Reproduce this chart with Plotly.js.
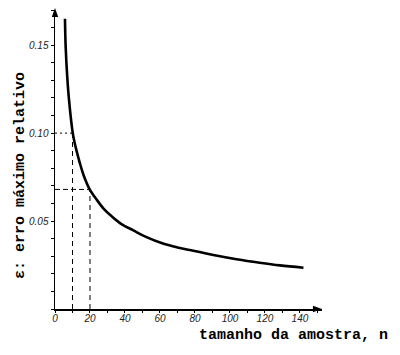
<!DOCTYPE html>
<html>
<head>
<meta charset="utf-8">
<script src="https://cdn.plot.ly/plotly-3.0.1.min.js"></script>
<style>html,body{margin:0;padding:0;background:#fff;}#chart{width:400px;height:355px;}</style>
</head>
<body>
<div id="chart"></div>
<script>
// Curve
const sampleSize = [5.7, 6.1, 7.0, 8.0, 10.0, 11.0, 12.4, 14.2, 16.2, 19.6, 23.8, 28, 32.4, 38, 44.8, 52, 61.7, 70, 77, 90.5, 103.8, 117, 128.6, 142];
const maxRelError = [0.165, 0.149, 0.132, 0.119, 0.101, 0.0955, 0.0896, 0.083, 0.0765, 0.0685, 0.0622, 0.0568, 0.0527, 0.0483, 0.0447, 0.041, 0.0372, 0.035, 0.0335, 0.0307, 0.0283, 0.0263, 0.0248, 0.0235];
// Reference guide points (n, epsilon)
const refN = [10, 20];
const refEps = [0.10, 0.068];
// Tick labels
const xTickVals = [0, 20, 40, 60, 80, 100, 120, 140];
const xTickText = ["0", "20", "40", "60", "80", "100", "120", "140"];
const yTickVals = [0.05, 0.10, 0.15];
const yTickText = ["0.05", "0.10", "0.15"];

const xTitle = "tamanho da amostra, n";
const yTitle = "ε: erro máximo relativo";

const traces = [];
traces.push({x: [refN[0], refN[0]], y: [0, refEps[0]], mode: 'lines', line: {color: '#000', width: 1, dash: '5px,4px'}, hoverinfo: 'skip'});
traces.push({x: [refN[1], refN[1]], y: [0, refEps[1]], mode: 'lines', line: {color: '#000', width: 1, dash: '5px,4px'}, hoverinfo: 'skip'});
traces.push({x: [0, refN[0]], y: [refEps[0], refEps[0]], mode: 'lines', line: {color: '#000', width: 1, dash: '2px,3px'}, hoverinfo: 'skip'});
traces.push({x: [0, refN[1]], y: [refEps[1], refEps[1]], mode: 'lines', line: {color: '#000', width: 1, dash: '5px,3px'}, hoverinfo: 'skip'});
traces.push({x: sampleSize, y: maxRelError, mode: 'lines', line: {color: '#000', width: 2.6, shape: 'spline', smoothing: 1.0}});

const tickFont = {family: 'Liberation Sans, Arial, sans-serif', size: 10, color: '#222', style: 'italic'};
const titleFont = {family: 'Courier New, Liberation Mono, monospace', size: 15, color: '#000', weight: 'bold'};

const layout = {
  width: 400, height: 355,
  margin: {l: 55, r: 78, t: 10, b: 46},
  paper_bgcolor: '#fff', plot_bgcolor: '#fff',
  showlegend: false,
  xaxis: {
    range: [0, 152.6], showgrid: false, zeroline: false,
    showline: true, linecolor: '#000', linewidth: 1.5,
    tickmode: 'array', tickvals: xTickVals, ticktext: xTickText,
    ticks: 'outside', ticklen: 2, tickcolor: '#000', tickwidth: 1,
    ticklabelstandoff: -3,
    minor: {tickmode: 'linear', dtick: 10, ticks: 'outside', ticklen: 2, tickcolor: '#000', tickwidth: 1},
    tickfont: tickFont, fixedrange: true
  },
  yaxis: {
    range: [0, 0.17], showgrid: false, zeroline: false,
    showline: true, linecolor: '#000', linewidth: 1.5,
    tickmode: 'array', tickvals: yTickVals, ticktext: yTickText,
    ticks: 'outside', ticklen: 3, tickcolor: '#000', tickwidth: 1,
    minor: {tickmode: 'linear', dtick: 0.01, ticks: 'outside', ticklen: 3, tickcolor: '#000', tickwidth: 1},
    tickfont: tickFont, fixedrange: true
  },
  shapes: [
    {type: 'path', xref: 'paper', yref: 'paper', path: 'M 1,0 L 0.966,0.011 L 0.966,-0.011 Z', fillcolor: '#000', line: {width: 0}},
    {type: 'path', xref: 'paper', yref: 'paper', path: 'M 0,1.007 L -0.012,0.977 L 0.012,0.977 Z', fillcolor: '#000', line: {width: 0}}
  ],
  annotations: [
    {xref: 'paper', yref: 'paper', x: 0.893, y: -0.088, text: xTitle, showarrow: false, font: titleFont, xanchor: 'center', yanchor: 'middle'},
    {xref: 'paper', yref: 'paper', x: -0.127, y: 0.445, text: yTitle, showarrow: false, font: titleFont, textangle: -90, xanchor: 'center', yanchor: 'middle'}
  ]
};

Plotly.newPlot('chart', traces, layout, {displayModeBar: false, staticPlot: true});
</script>
</body>
</html>
